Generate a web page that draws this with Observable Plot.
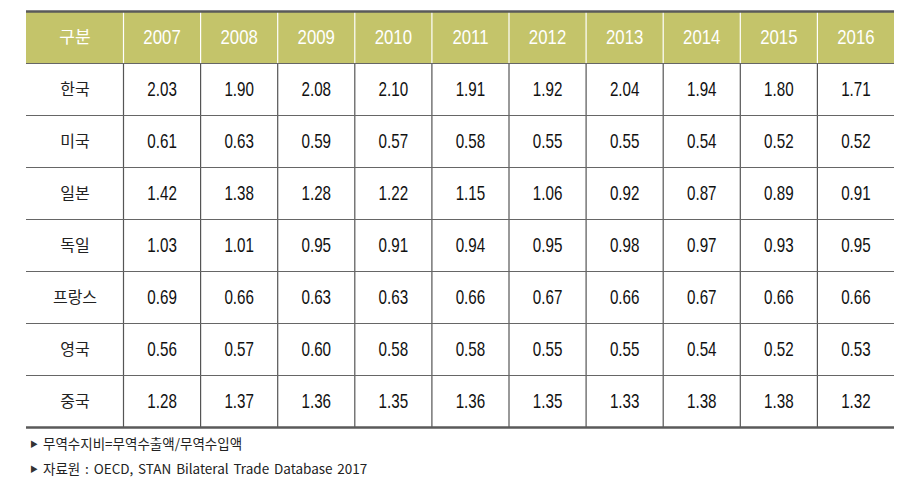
<!DOCTYPE html>
<html><head><meta charset="utf-8">
<script src="https://cdn.jsdelivr.net/npm/d3@7"></script>
<script src="https://cdn.jsdelivr.net/npm/@observablehq/plot@0.6"></script>
<style>
body{margin:0;background:#fff;}
#notes{padding-left:30px;font-family:"Noto Sans CJK KR","Noto Sans",sans-serif;font-size:13.5px;color:#222;line-height:25px;padding-top:1px;word-spacing:1.8px}
#notes .tri{font-size:8px;display:inline-block;width:13px;vertical-align:2px;color:#333;word-spacing:0}
</style></head><body>
<div id="chart"></div>
<div id="notes"></div>
<script>
// ---- data ----
const headerLabel = "구분";
const years = ["2007","2008","2009","2010","2011","2012","2013","2014","2015","2016"];
const countries = ["한국","미국","일본","독일","프랑스","영국","중국"];
const korea   = [2.03,1.90,2.08,2.10,1.91,1.92,2.04,1.94,1.80,1.71];
const usa     = [0.61,0.63,0.59,0.57,0.58,0.55,0.55,0.54,0.52,0.52];
const japan   = [1.42,1.38,1.28,1.22,1.15,1.06,0.92,0.87,0.89,0.91];
const germany = [1.03,1.01,0.95,0.91,0.94,0.95,0.98,0.97,0.93,0.95];
const france  = [0.69,0.66,0.63,0.63,0.66,0.67,0.66,0.67,0.66,0.66];
const uk      = [0.56,0.57,0.60,0.58,0.58,0.55,0.55,0.54,0.52,0.53];
const china   = [1.28,1.37,1.36,1.35,1.36,1.35,1.33,1.38,1.38,1.32];
const notes = ["무역수지비=무역수출액/무역수입액", "자료원 : OECD, STAN Bilateral Trade Database 2017"];

// ---- layout ----
const series = [korea, usa, japan, germany, france, uk, china];
const w0 = 97 / 77.1; // relative width of the label column
const colStart = [0, ...years.map((_, i) => w0 + i)];
const colEnd = [w0, ...years.map((_, i) => w0 + i + 1)];
const nRows = countries.length + 1;

const headerCells = [headerLabel, ...years].map((t, c) => ({text: t, x: (colStart[c] + colEnd[c]) / 2, y: 0.5}));
const labelCells = countries.map((t, r) => ({text: t, x: w0 / 2, y: r + 1.5}));
const valueCells = series.flatMap((vals, r) => vals.map((v, c) => ({text: v.toFixed(2), x: w0 + c + 0.5, y: r + 1.5})));
const innerEdges = colEnd.slice(0, -1);

const latin = '"Liberation Sans","Noto Sans CJK KR",sans-serif';

const chart = Plot.plot({
  width: 911, height: 430,
  margin: 0,
  x: {domain: [0, w0 + years.length], range: [26, 894], axis: null},
  y: {domain: [0, nRows], range: [11, 427], axis: null},
  marks: [
    Plot.rect([0], {x1: 0, x2: w0 + years.length, y1: 0, y2: 1, fill: "#c4c46a"}),
    Plot.ruleX(innerEdges, {y1: 0, y2: 1, stroke: "#ffffff", strokeWidth: 1.2}),
    Plot.ruleX(innerEdges, {y1: 1, y2: nRows, stroke: "#555", strokeWidth: 1.2}),
    Plot.ruleY(d3.range(1, nRows), {x1: 0, x2: w0 + years.length, stroke: "#666", strokeWidth: 1.2}),
    Plot.ruleY([0, nRows], {x1: 0, x2: w0 + years.length, stroke: "#5a5a5a", strokeWidth: 2.5}),
    Plot.text(headerCells.slice(0, 1), {x: "x", y: "y", text: "text", fill: "#fffffe", fontSize: 17, fontFamily: '"Noto Sans CJK KR",sans-serif'}),
    Plot.text(headerCells.slice(1), {x: "x", y: "y", text: "text", fill: "#ffffff", fontSize: 20, fontFamily: latin}),
    Plot.text(labelCells, {x: "x", y: "y", text: "text", fill: "#222", fontSize: 16, fontFamily: '"Noto Sans CJK KR",sans-serif'}),
    Plot.text(valueCells, {x: "x", y: "y", text: "text", fill: "#111", fontSize: 20, fontFamily: latin})
  ]
});
// condense the Latin digits horizontally, as in the original's narrow typeface
const condense = (sel, k) => d3.select(chart).selectAll(sel)
  .attr("transform", function() { return (this.getAttribute("transform") || "") + ` scale(${k},1)`; });
condense('g[fill="#111"] text', 0.76);
condense('g[fill="#ffffff"] text', 0.84);
document.getElementById("chart").append(chart);
document.getElementById("notes").innerHTML = notes.map(n => `<div><span class="tri">▶</span>${n}</div>`).join("");
</script>
</body></html>
